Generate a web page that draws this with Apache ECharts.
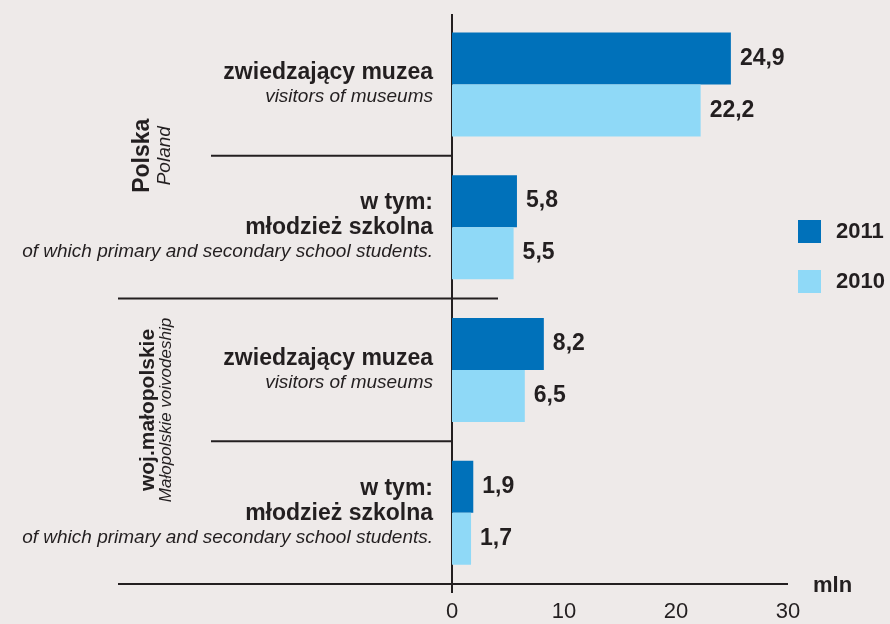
<!DOCTYPE html>
<html lang="pl">
<head>
    <meta charset="UTF-8">
    <title>Zwiedzający muzea</title>
    <script src="https://cdn.jsdelivr.net/npm/echarts@6/dist/echarts.min.js"></script>
</head>
<body style="margin:0;background:#eeeae9">
<div id="main" style="width: 890px;height:624px"></div>
<script>

    // dane
    var categories = ['PL muzea', 'PL mlodziez', 'MP muzea', 'MP mlodziez'];
    var labelsPl = [['zwiedzający muzea'], ['w tym:', 'młodzież szkolna'], ['zwiedzający muzea'], ['w tym:', 'młodzież szkolna']];
    var labelsEn = ['visitors of museums', 'of which primary and secondary school students.', 'visitors of museums', 'of which primary and secondary school students.'];
    var years = ['2011', '2010'];
    var values2011 = [24.9, 5.8, 8.2, 1.9];
    var values2010 = [22.2, 5.5, 6.5, 1.7];
    var xTicks = [0, 10, 20, 30];
    var unit = 'mln';

    var dark = '#231f20';
    var font = '"Liberation Sans", Arial, sans-serif';
    var myChart = echarts.init(document.getElementById('main'));

    function valueLabel(p) {
        return String(p.value).replace('.', ',');
    }

    option = {
        backgroundColor: '#eeeae9',
        textStyle: { fontFamily: font },
        legend: {
            orient: 'vertical',
            left: 798,
            top: 220,
            padding: 0,
            itemWidth: 23,
            itemHeight: 23,
            itemGap: 27,
            icon: 'rect',
            data: years,
            textStyle: { color: dark, fontSize: 22, fontWeight: 'bold', padding: [0, 0, 0, 10] }
        },
        grid: { left: 452, right: 102, top: 13, bottom: 40, containLabel: false },
        xAxis: {
            type: 'value',
            min: xTicks[0],
            max: xTicks[xTicks.length - 1],
            interval: xTicks[1] - xTicks[0],
            axisLine: { show: false },
            axisTick: { show: false },
            splitLine: { show: false },
            axisLabel: { color: dark, fontSize: 22, margin: 17 }
        },
        yAxis: {
            type: 'category',
            inverse: true,
            data: categories,
            axisLine: { show: false },
            axisTick: { show: false },
            axisLabel: {
                margin: 19,
                formatter: function (v, i) {
                    var s = labelsPl[i].map(function (t) { return '{b|' + t + '}'; });
                    s.push('{i|' + labelsEn[i] + '}');
                    return s.join('\n');
                },
                rich: {
                    b: { fontSize: 23, fontWeight: 'bold', color: dark, lineHeight: 25, align: 'right' },
                    i: { fontSize: 19, fontStyle: 'italic', color: dark, lineHeight: 23, align: 'right' }
                }
            }
        },
        series: [
            {
                name: years[0],
                type: 'bar',
                data: values2011,
                barWidth: 52,
                barGap: '0%',
                itemStyle: { color: '#0071ba' },
                label: { show: true, position: 'right', distance: 9, color: dark, fontSize: 23, fontWeight: 'bold', formatter: valueLabel }
            },
            {
                name: years[1],
                type: 'bar',
                data: values2010,
                barWidth: 52,
                barGap: '0%',
                itemStyle: { color: '#8fd9f7' },
                label: { show: true, position: 'right', distance: 9, color: dark, fontSize: 23, fontWeight: 'bold', formatter: valueLabel }
            }
        ]
    };

    myChart.setOption(option);

    // linie podziału i opisy grup
    var x0 = myChart.convertToPixel({ xAxisIndex: 0 }, 0);
    var xMax = myChart.convertToPixel({ xAxisIndex: 0 }, xTicks[xTicks.length - 1]);
    var c0 = myChart.convertToPixel({ yAxisIndex: 0 }, 0);
    var band = myChart.convertToPixel({ yAxisIndex: 0 }, 1) - c0;
    function edge(i) { return c0 + band * (i + 0.5); }

    function hline(x1, x2, y) {
        return { type: 'line', shape: { x1: x1, y1: y, x2: x2, y2: y }, style: { stroke: dark, lineWidth: 2 } };
    }
    function vtext(x, y, text, size, weight, style) {
        return {
            type: 'text', x: x, y: y, rotation: Math.PI / 2,
            style: { text: text, font: style + ' ' + weight + ' ' + size + 'px ' + font, fill: dark, align: 'center', verticalAlign: 'middle' }
        };
    }

    myChart.setOption({
        graphic: [
            { type: 'line', shape: { x1: x0, y1: 14, x2: x0, y2: edge(3) + 9 }, style: { stroke: dark, lineWidth: 2 } },
            hline(211, x0, edge(0)),
            hline(118, 498, edge(1)),
            hline(211, x0, edge(2)),
            hline(118, xMax, edge(3)),
            vtext(143, edge(0), 'Polska', 23, 'bold', 'normal'),
            vtext(165, edge(0), 'Poland', 19, 'normal', 'italic'),
            vtext(148, 410, 'woj.małopolskie', 21, 'bold', 'normal'),
            vtext(166, 410, 'Małopolskie voivodeship', 17, 'normal', 'italic'),
            { type: 'text', x: 813, y: edge(3) + 2, style: { text: unit, font: 'bold 22px ' + font, fill: dark, verticalAlign: 'middle' } }
        ]
    });
</script>
</body>
</html>
